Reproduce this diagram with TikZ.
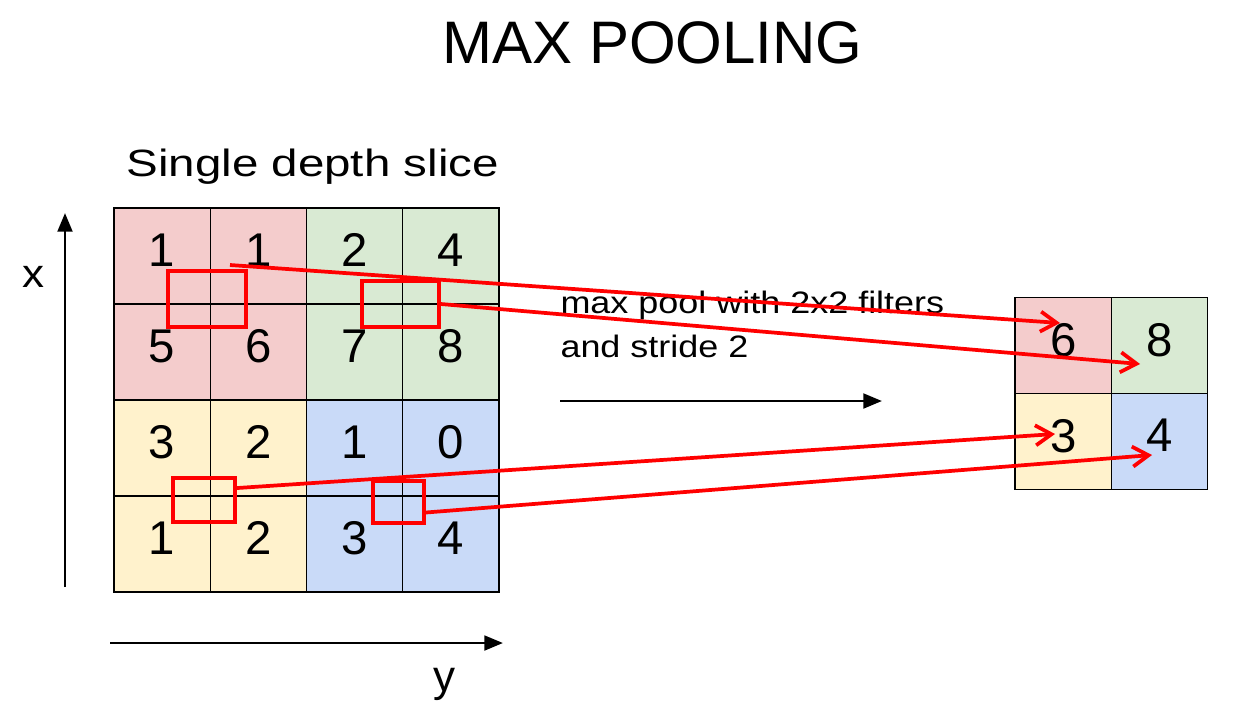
\documentclass[tikz,border=0pt]{standalone}
\usepackage{fontspec}
\setmainfont{Liberation Sans}
\usepackage{graphicx}
\usetikzlibrary{arrows.meta}
\tikzset{every picture/.style={line width=0.75pt}}
\definecolor{cellred}{HTML}{F4CCCC}
\definecolor{cellgreen}{HTML}{D9EAD3}
\definecolor{cellyellow}{HTML}{FFF2CC}
\definecolor{cellblue}{HTML}{C9DAF8}
\tikzset{
  cell/.style={draw=black, line width=0.9pt, minimum width=72.2pt, minimum height=72pt, inner sep=0pt, text depth=9pt, font=\fontsize{35.5pt}{38pt}\selectfont},
  window/.style={draw=red, line width=2.8pt, inner sep=0pt},
  redarrow/.style={draw=red, line width=2.8pt, -{Straight Barb[length=12pt,width=15pt]}},
  axis/.style={line width=2.2pt, -{Triangle[length=14pt,width=11pt]}}
}

\begin{document}
\begin{tikzpicture}[x=0.75pt,y=0.75pt,yscale=-1,xscale=1]
\useasboundingbox (0,0) rectangle (1234,719); %set diagram to 1234 x 719

% Text Node
\node [anchor=base, inner sep=0pt, font=\fontsize{45pt}{54pt}\selectfont] (title) at (652.5,63) {MAX POOLING};
% Text Node
\node [anchor=base west, inner sep=0pt, font=\fontsize{28.5pt}{34pt}\selectfont] (slice) at (126,176) {\scalebox{1.25}[1]{Single depth slice}};

% Input slice
\node [cell, fill=cellred] (a11) at (162.1,256) {1};
\node [cell, fill=cellred] (a12) at (258.4,256) {1};
\node [cell, fill=cellgreen] (a13) at (354.6,256) {2};
\node [cell, fill=cellgreen] (a14) at (450.9,256) {4};
\node [cell, fill=cellred] (a21) at (162.1,352) {5};
\node [cell, fill=cellred] (a22) at (258.4,352) {6};
\node [cell, fill=cellgreen] (a23) at (354.6,352) {7};
\node [cell, fill=cellgreen] (a24) at (450.9,352) {8};
\node [cell, fill=cellyellow] (a31) at (162.1,448) {3};
\node [cell, fill=cellyellow] (a32) at (258.4,448) {2};
\node [cell, fill=cellblue] (a33) at (354.6,448) {1};
\node [cell, fill=cellblue] (a34) at (450.9,448) {0};
\node [cell, fill=cellyellow] (a41) at (162.1,544) {1};
\node [cell, fill=cellyellow] (a42) at (258.4,544) {2};
\node [cell, fill=cellblue] (a43) at (354.6,544) {3};
\node [cell, fill=cellblue] (a44) at (450.9,544) {4};

% Pooled output
\node [cell, fill=cellred] (b11) at (1063.2,345.5) {6};
\node [cell, fill=cellgreen] (b12) at (1159.6,345.5) {8};
\node [cell, fill=cellyellow] (b21) at (1063.2,441.5) {3};
\node [cell, fill=cellblue] (b22) at (1159.6,441.5) {4};

% Filter windows
\node [window, minimum width=58.5pt, minimum height=42pt] (win1) at (207,299) {};
\node [window, minimum width=57.75pt, minimum height=34.5pt] (win2) at (400.5,304) {};
\node [window, minimum width=46.5pt, minimum height=33pt] (win3) at (204,500) {};
\node [window, minimum width=38.25pt, minimum height=31.5pt] (win4) at (398.5,502) {};

% Text Node
\node [anchor=base west, inner sep=0pt, align=left, font=\fontsize{23.25pt}{33pt}\selectfont] (stride) at (560,357) {\scalebox{1.16}[1]{max pool with 2x2 filters}\\\scalebox{1.16}[1]{and stride 2}};
% Text Node
\node [anchor=base, inner sep=0pt, font=\fontsize{30pt}{36pt}\selectfont] (xlabel) at (33,287) {\scalebox{1.1}[1]{x}};
% Text Node
\node [anchor=base, inner sep=0pt, font=\fontsize{33pt}{40pt}\selectfont] (ylabel) at (444,691) {y};

\coordinate (xfrom) at (65,587);
\coordinate (xto) at (65,213);
\coordinate (yfrom) at (110,643);
\coordinate (yto) at (503,643);
\coordinate (sfrom) at (560,401);
\coordinate (sto) at (882,401);
\coordinate (src1) at (230,265);
\coordinate (dst1) at (1060,323);
\coordinate (dst2) at (1140,364);
\coordinate (dst3) at (1055,434);
\coordinate (dst4) at (1152,455);

%Straight Lines
\draw [axis] (xfrom) -- (xto) ;
%Straight Lines
\draw [axis] (yfrom) -- (yto) ;
%Straight Lines
\draw [axis] (sfrom) -- (sto) ;

%Straight Lines
\draw [redarrow] (src1) -- (dst1) ;
%Straight Lines
\draw [redarrow] (win2.east) -- (dst2) ;
%Straight Lines
\draw [redarrow] (win3.20) -- (dst3) ;
%Straight Lines
\draw [redarrow] (win4.-21) -- (dst4) ;

\end{tikzpicture}
\end{document}
